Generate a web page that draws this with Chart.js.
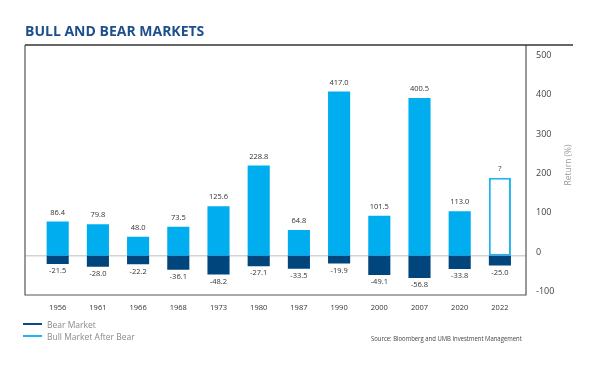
<!DOCTYPE html>
<html>
<head>
<meta charset="utf-8">
<script src="https://cdn.jsdelivr.net/npm/chart.js@4"></script>
<style>
  html, body { margin: 0; padding: 0; background: #fff; }
  #wrap { position: relative; width: 600px; height: 367px; }
  #title {
    position: absolute; left: 25px; top: 21px;
    font-family: 'Open Sans', sans-serif; font-weight: 700; font-size: 14px;
    color: #1d4f8c;
  }
  .legend-item {
    position: absolute; left: 23px; height: 12px;
    font-family: 'Open Sans', sans-serif; font-size: 8.5px; color: #8a8a8a;
    display: flex; align-items: center;
  }
  .legend-item span.swatch { display: inline-block; width: 19px; height: 2px; margin-right: 5px; }
  #source {
    position: absolute; left: 371px; top: 334px;
    font-family: 'Open Sans', sans-serif; font-size: 6.6px; color: #444;
    transform: scaleX(0.9); transform-origin: left center; white-space: nowrap;
  }
</style>
</head>
<body>
<div id="wrap">
  <canvas id="chart" width="600" height="367"></canvas>
  <div id="title">BULL AND BEAR MARKETS</div>
  <div class="legend-item" style="top:318px"><span class="swatch" style="background:#0b4a86"></span>Bear Market</div>
  <div class="legend-item" style="top:330px"><span class="swatch" style="background:#22b4ee"></span>Bull Market After Bear</div>
  <div id="source">Source: Bloomberg and UMB Investment Management</div>
</div>
<script>
// Chart data
const years = ['1956', '1961', '1966', '1968', '1973', '1980', '1987', '1990', '2000', '2007', '2020', '2022'];
const bearReturns = [-21.5, -28.0, -22.2, -36.1, -48.2, -27.1, -33.5, -19.9, -49.1, -56.8, -33.8, -25.0];
const bullReturns = [86.4, 79.8, 48.0, 73.5, 125.6, 228.8, 64.8, 417.0, 101.5, 400.5, 113.0, 198];
const bullLabels = ['86.4', '79.8', '48.0', '73.5', '125.6', '228.8', '64.8', '417.0', '101.5', '400.5', '113.0', '?'];
const yTicks = [-100, 0, 100, 200, 300, 400, 500];

const LIGHT = '#00aeef';
const DARK = '#00457c';
const last = years.length - 1;

// frame, zero line and axis title
const framePlugin = {
    id: 'frame',
    beforeDatasetsDraw(chart) {
        const { ctx, chartArea, scales } = chart;
        const left = 25, right = chartArea.right + 6;
        const top = chartArea.top, bottom = chartArea.bottom;
        ctx.save();
        // zero line
        const y0 = scales.y.getPixelForValue(0);
        ctx.strokeStyle = '#d3d3d3';
        ctx.lineWidth = 1.5;
        ctx.beginPath();
        ctx.moveTo(left, y0);
        ctx.lineTo(right, y0);
        ctx.stroke();
        // box
        ctx.strokeStyle = '#555';
        ctx.lineWidth = 1.2;
        ctx.beginPath();
        ctx.moveTo(left, top);
        ctx.lineTo(left, bottom);
        ctx.lineTo(right, bottom);
        ctx.lineTo(right, top);
        ctx.stroke();
        ctx.strokeStyle = '#333';
        ctx.lineWidth = 1.5;
        ctx.beginPath();
        ctx.moveTo(left, top);
        ctx.lineTo(573, top);
        ctx.stroke();
        // axis title
        ctx.translate(569, (top + bottom) / 2 - 5);
        ctx.rotate(-Math.PI / 2);
        ctx.fillStyle = '#999';
        ctx.font = '8.5px "Open Sans"';
        ctx.textAlign = 'center';
        ctx.textBaseline = 'middle';
        ctx.fillText('Return (%)', 0, 0);
        ctx.restore();
    }
};

// value labels above / below bars
const labelPlugin = {
    id: 'barLabels',
    afterDatasetsDraw(chart) {
        const { ctx } = chart;
        ctx.save();
        ctx.font = '7.5px "Open Sans"';
        ctx.fillStyle = '#333';
        ctx.textAlign = 'center';
        ctx.textBaseline = 'middle';
        chart.getDatasetMeta(1).data.forEach((bar, i) => {
            ctx.fillText(bullLabels[i], bar.x, bar.y - 9);
        });
        chart.getDatasetMeta(0).data.forEach((bar, i) => {
            ctx.fillText(bearReturns[i].toFixed(1), bar.x, bar.y + 7);
        });
        ctx.restore();
    }
};

new Chart(document.getElementById('chart'), {
    type: 'bar',
    data: {
        labels: years,
        datasets: [{
            label: 'Bear Market',
            data: bearReturns,
            backgroundColor: DARK,
            barPercentage: 0.55,
            categoryPercentage: 1
        }, {
            label: 'Bull Market After Bear',
            data: bullReturns,
            backgroundColor: bullReturns.map((v, i) => i === last ? '#fff' : LIGHT),
            borderColor: bullReturns.map((v, i) => i === last ? '#22b4ee' : LIGHT),
            borderWidth: bullReturns.map((v, i) => i === last ? 2 : 0),
            borderSkipped: false,
            barPercentage: 0.55,
            categoryPercentage: 1
        }]
    },
    options: {
        responsive: false,
        animation: false,
        layout: { padding: { left: 37.6, right: 0, top: 45, bottom: 0 } },
        plugins: {
            legend: { display: false },
            tooltip: { enabled: false }
        },
        scales: {
            x: {
                stacked: true,
                grid: { display: false, drawTicks: false },
                border: { display: false },
                ticks: {
                    color: '#333',
                    font: { family: 'Open Sans', size: 7.5 },
                    padding: 8,
                    maxRotation: 0,
                    autoSkip: false
                },
                afterFit(scale) { scale.height = 72; }
            },
            y: {
                stacked: true,
                position: 'right',
                min: -100,
                max: 535,
                grid: { display: false, drawTicks: false },
                border: { display: false },
                ticks: {
                    color: '#444',
                    font: { family: 'Open Sans', size: 9 },
                    padding: 16,
                    labelOffset: -3.5
                },
                afterBuildTicks(scale) {
                    scale.ticks = yTicks.map(v => ({ value: v }));
                },
                afterFit(scale) { scale.width = 80; }
            }
        }
    },
    plugins: [framePlugin, labelPlugin]
});
</script>
</body>
</html>
